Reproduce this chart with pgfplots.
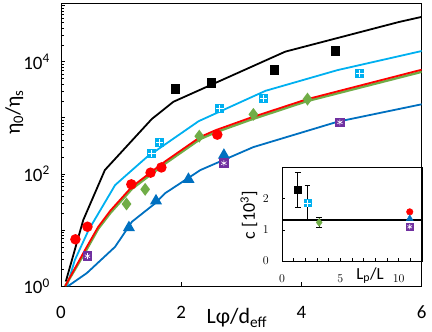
\documentclass[border=0pt]{standalone}
\usepackage{fontspec}
\setmainfont{Carlito}
\usepackage{pgfplots}
\pgfplotsset{compat=1.18}
\definecolor{xlblue}{HTML}{00B0F0}
\definecolor{xdblue}{HTML}{0070C0}
\definecolor{xgreen}{HTML}{70AD47}
\definecolor{xpurple}{HTML}{7030A0}
\definecolor{xred}{HTML}{FF0000}

\begin{document}
\begin{tikzpicture}
\begin{axis}[
  width=360.7bp, height=282.7bp, scale only axis,
  at={(0,0)}, anchor=south west,
  xmin=0, xmax=6, ymode=log, ymin=1, ymax=1.1e5,
  xtick={0,2,4,6}, xticklabels={0,2,4,6},
  ytick={1,10,100,1000,10000,100000},
  yticklabels={10\textsuperscript{0},,10\textsuperscript{2},,10\textsuperscript{4},},
  tick align=inside, xtick pos=bottom, ytick pos=left,
  major tick length=4.5bp, minor tick length=3.5bp,
  tick style={black, line width=0.6bp},
  axis line style={line width=0.9bp},
  ticklabel style={font=\fontsize{19}{19}\selectfont},
  yticklabel style={inner xsep=0pt, xshift=-11bp},
  xticklabel style={inner ysep=0pt, yshift=-20bp},
  xlabel={Lφ/d\textsubscript{eff}},
  xlabel style={at={(axis description cs:0.4875,-0.1344)}, anchor=base,
    font=\fontsize{22}{22}\selectfont},
  ylabel={η\textsubscript{0}/η\textsubscript{s}},
  ylabel style={at={(axis description cs:-0.1137,0.615)}, anchor=base,
    font=\fontsize{21}{21}\selectfont},
  every axis plot/.append style={line width=1.8bp},
]
% model curves
\addplot[black, no marks] coordinates {
  (0.08,1.2) (0.37,15) (0.73,117) (1.51,950) (1.87,1930) (3.73,15100) (5.62,51000) (6.0,63000)};
\addplot[xlblue, no marks] coordinates {
  (0.1,1) (0.23,2.9) (0.46,10) (0.9,63) (1.12,102) (1.43,200) (2.29,870) (3.4,3020) (4.6,7080) (6.0,15500)};
\addplot[xgreen, no marks, line width=2.4bp] coordinates {
  (0.07,1) (0.4,4) (0.62,10.5) (0.82,20) (1.18,54) (1.73,152) (2.32,420) (2.57,550) (3.15,920) (4.09,1980) (6.0,6600)};
\addplot[xred, no marks] coordinates {
  (0.07,1) (0.4,4.4) (0.62,11.4) (0.82,22) (1.18,59) (1.73,166) (2.32,457) (2.57,600) (3.15,1000) (4.09,2140) (6.0,7200)};
\addplot[xdblue, no marks] coordinates {
  (0.12,1) (0.43,1.7) (0.9,5) (1.18,14) (1.57,30) (1.73,45) (2.32,117) (3.2,300) (4.6,850) (6.0,1740)};
% measured points
\addplot[only marks, mark=square*, mark size=3.8bp, black] coordinates {
  (1.9,3240) (2.5,4200) (3.55,7100) (4.57,15600)};
\addplot[only marks, mark=square*, mark size=3.8bp, xlblue] coordinates {
  (1.51,230) (1.64,365) (2.64,1470) (3.37,2220) (4.97,6200)};
\addplot[only marks, mark=+, mark size=3.8bp, white, line width=1bp] coordinates {
  (1.51,230) (1.64,365) (2.64,1470) (3.37,2220) (4.97,6200)};
\addplot[only marks, mark=*, mark size=4.3bp, xred] coordinates {
  (0.24,6.8) (0.44,11.4) (1.17,65) (1.49,105) (1.67,130) (2.6,500)};
\addplot[only marks, mark=diamond*, mark size=5bp, xgreen] coordinates {
  (1.09,29) (1.4,53) (2.3,470) (3.2,1150) (4.1,2150)};
\addplot[only marks, mark=triangle*, mark size=5.2bp, xdblue] coordinates {
  (1.13,11) (1.58,33) (2.12,80) (2.71,215)};
\addplot[only marks, mark=square*, mark size=3.8bp, xpurple] coordinates {
  (0.44,3.4) (2.71,155) (4.64,830)};
\addplot[only marks, mark=asterisk, mark size=3bp, white, line width=0.6bp] coordinates {
  (0.44,3.4) (2.71,155) (4.64,830)};
\end{axis}

% inset: c vs Lp/L
\begin{axis}[
  width=140bp, height=93.3bp, scale only axis,
  at={(221bp,25bp)}, anchor=south west,
  xmin=0, xmax=12, ymin=0, ymax=3,
  xtick={0,5,10}, minor xtick={1,...,11}, ytick={0,1,2},
  tick align=inside, xtick pos=bottom, ytick pos=left,
  major tick length=3bp, minor tick length=3bp,
  tick style={black, line width=0.6bp},
  axis line style={line width=0.9bp},
  ticklabel style={font=\fontsize{12}{12}\selectfont},
  yticklabel style={inner xsep=0pt, xshift=-13bp},
  xticklabel style={inner ysep=0pt, yshift=-14bp},
  xlabel={L\textsubscript{p}/L},
  xlabel style={at={(axis description cs:0.629,-0.193)}, anchor=base,
    font=\fontsize{17}{17}\selectfont},
  ylabel={c [10\textsuperscript{3}]},
  ylabel style={at={(axis description cs:-0.193,0.49)}, anchor=base,
    font=\fontsize{18}{18}\selectfont},
  error bars/error bar style={black, line width=0.7bp},
  error bars/error mark options={rotate=90, mark size=2.8bp, black, line width=0.7bp},
]
\addplot[black, line width=1.8bp, no marks] coordinates {(0,1.31) (12,1.31)};
\addplot[only marks, mark=square*, mark size=3.3bp, black,
  error bars/.cd, y dir=both, y explicit] coordinates {(1.35,2.29) +- (0,0.57)};
\addplot[only marks, mark=square*, mark size=3.5bp, xlblue,
  error bars/.cd, y dir=both, y explicit] coordinates {(2.18,1.86) +- (0,0.56)};
\addplot[only marks, mark=+, mark size=3.5bp, white, line width=0.9bp] coordinates {(2.18,1.86)};
\addplot[only marks, mark=diamond*, mark size=4bp, xgreen,
  error bars/.cd, y dir=both, y explicit] coordinates {(3.19,1.24) +- (0,0.15)};
\addplot[only marks, mark=*, mark size=3.3bp, xred] coordinates {(10.95,1.58)};
\addplot[only marks, mark=triangle*, mark size=4bp, xdblue] coordinates {(10.95,1.36)};
\addplot[only marks, mark=square*, mark size=3.3bp, xpurple] coordinates {(10.95,1.10)};
\addplot[only marks, mark=asterisk, mark size=2.6bp, white, line width=0.6bp] coordinates {(10.95,1.10)};
\end{axis}

\pgfresetboundingbox
\path[use as bounding box] (-61bp,-46bp) rectangle (371bp,286bp);
\end{tikzpicture}
\end{document}
